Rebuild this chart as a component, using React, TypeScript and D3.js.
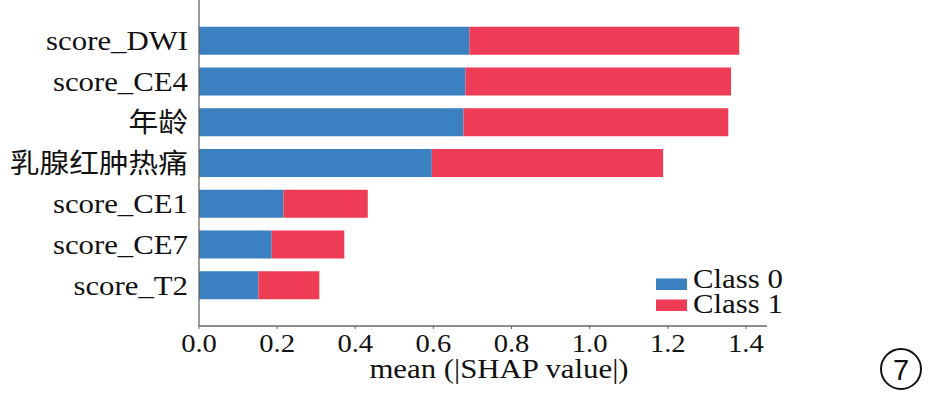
import React from "react";
import * as d3 from "d3";

const features = ["score_T2", "score_CE7", "score_CE1", "乳腺红肿热痛", "年龄", "score_CE4", "score_DWI"];
const class0 = [0.152, 0.186, 0.216, 0.596, 0.677, 0.682, 0.692];
const class1 = [0.156, 0.186, 0.216, 0.592, 0.678, 0.680, 0.691];
const tickValues = [0, 0.2, 0.4, 0.6, 0.8, 1.0, 1.2, 1.4];
const tickLabels = ["0.0", "0.2", "0.4", "0.6", "0.8", "1.0", "1.2", "1.4"];
const legendLabels = ["Class 0", "Class 1"];
const xTitle = "mean (|SHAP value|)";
const badge = "7";

const BLUE = "#3b80c0";
const RED = "#ef3c56";
const AXIS = "#666666";
const SERIF = '"Liberation Serif", "Times New Roman", "Noto Sans CJK SC", serif';
const SX = 1.1;

function SText({ x, y, size, anchor = "start", children, family = SERIF }: any) {
  return (
    <text
      transform={`translate(${x},${y}) scale(${SX},1)`}
      fontSize={size}
      fontFamily={family}
      textAnchor={anchor}
      fill="#111"
    >
      {children}
    </text>
  );
}

const isCJK = (s: string) => /[\u4e00-\u9fff]/.test(s);

export default function App() {
  const x = d3.scaleLinear().domain([0, 1.454]).range([199, 767]);
  const y = d3.scaleLinear().domain([0, features.length + 1]).range([326, 0]);
  const barH = 28;

  return (
    <svg
      width={930}
      height={394}
      style={{ position: "absolute", left: 0, top: 0, background: "#fff" }}
    >
      <rect x={0} y={0} width={930} height={394} fill="#fff" />
      {features.map((f, i) => {
        const cy = y(i + 1);
        return (
          <g key={f}>
            <rect x={x(0)} y={cy - barH / 2} width={x(class0[i]) - x(0)} height={barH} fill={BLUE} />
            <rect
              x={x(class0[i])}
              y={cy - barH / 2}
              width={x(class0[i] + class1[i]) - x(class0[i])}
              height={barH}
              fill={RED}
            />
            <SText x={188} y={cy + 9.5} size={isCJK(f) ? 27 : 28} anchor="end">
              {f}
            </SText>
          </g>
        );
      })}
      {/* axes */}
      <line x1={x(0)} x2={x(0)} y1={0} y2={y(0)} stroke={AXIS} strokeWidth={1.3} />
      <line x1={x(0)} x2={x(1.454)} y1={y(0)} y2={y(0)} stroke={AXIS} strokeWidth={1.3} />
      {tickValues.map((v, i) => (
        <g key={v}>
          <line x1={x(v)} x2={x(v)} y1={y(0)} y2={y(0) + 3} stroke={AXIS} strokeWidth={1} />
          <SText x={x(v)} y={352} size={26} anchor="middle">
            {tickLabels[i]}
          </SText>
        </g>
      ))}
      <SText x={499} y={378} size={28} anchor="middle">
        {xTitle}
      </SText>
      {/* legend */}
      {legendLabels.map((l, i) => (
        <g key={l}>
          <rect x={656} y={278.5 + i * 21} width={31} height={11.5} fill={i === 0 ? BLUE : RED} />
          <SText x={693} y={288 + i * 25} size={28}>
            {l}
          </SText>
        </g>
      ))}
      {/* badge */}
      <circle cx={901} cy={369} r={20} fill="none" stroke="#111" strokeWidth={2} />
      <text
        x={901}
        y={379.5}
        fontSize={29}
        fontFamily='"Liberation Sans", Arial, sans-serif'
        textAnchor="middle"
        fill="#111"
      >
        {badge}
      </text>
    </svg>
  );
}
